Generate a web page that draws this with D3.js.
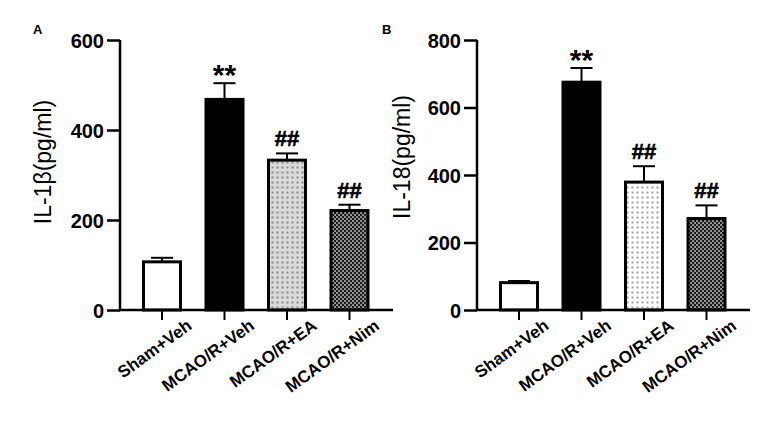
<!DOCTYPE html>
<html><head><meta charset="utf-8">
<script src="https://cdn.jsdelivr.net/npm/d3@7"></script>
<style>body{margin:0;background:#fff}svg{display:block}text{font-family:"Liberation Sans",Arial,sans-serif;fill:#000}</style>
</head><body><svg id="c" width="773" height="428"></svg>
<script>
const groups = ["Sham+Veh","MCAO/R+Veh","MCAO/R+EA","MCAO/R+Nim"];
const il1bMean = [107, 468, 333, 221];
const il1bErr  = [9, 36, 15, 13];
const il18Mean = [81, 675, 379, 271];
const il18Err  = [5, 42, 47, 39];
const sigMarks = ["", "**", "##", "##"];
const ticksA = [0, 200, 400, 600];
const ticksB = [0, 200, 400, 600, 800];

const svg = d3.select("#c");
const defs = svg.append("defs");

function dotPattern(id, bg, dot){
  const p = defs.append("pattern").attr("id", id).attr("patternUnits","userSpaceOnUse")
    .attr("width",5).attr("height",5);
  p.append("rect").attr("width",5).attr("height",5).attr("fill",bg);
  p.append("rect").attr("x",1.5).attr("y",1.5).attr("width",2).attr("height",2).attr("fill",dot);
}
dotPattern("dotsA", "#dadada", "#8a8a8a");
dotPattern("dotsB", "#ffffff", "#a0a0a0");
{
  const p = defs.append("pattern").attr("id","checker").attr("patternUnits","userSpaceOnUse")
    .attr("width",4).attr("height",4);
  p.append("rect").attr("width",4).attr("height",4).attr("fill","#1c1c1c");
  p.append("rect").attr("x",0.3).attr("y",0.3).attr("width",1.5).attr("height",1.5).attr("fill","#e8e8e8");
  p.append("rect").attr("x",2.3).attr("y",2.3).attr("width",1.5).attr("height",1.5).attr("fill","#e8e8e8");
}

function panel(opt){
  const x0 = opt.x0, yTop = 40, yBot = 310;
  const y = d3.scaleLinear().domain([0, opt.max]).range([yBot, yTop]);
  const x = d3.scaleBand().domain(groups).range([x0 + 10.75, x0 + 260.75])
    .paddingInner(0.36).paddingOuter(0.18);
  const g = svg.append("g");
  const fills = ["#ffffff", "#000000", "url(#" + opt.dots + ")", "url(#checker)"];

  // error bars (upper only)
  groups.forEach((k, i) => {
    const cx = x(k) + x.bandwidth()/2;
    const v = opt.mean[i], e = opt.err[i];
    g.append("line").attr("x1",cx).attr("x2",cx).attr("y1",y(v)).attr("y2",y(v+e))
      .attr("stroke","#000").attr("stroke-width",2);
    g.append("line").attr("x1",cx-11).attr("x2",cx+11).attr("y1",y(v+e)).attr("y2",y(v+e))
      .attr("stroke","#000").attr("stroke-width",2);
  });
  // bars
  g.selectAll("rect.bar").data(groups).join("rect").attr("class","bar")
    .attr("x", k => x(k) + 1.5)
    .attr("width", x.bandwidth() - 3)
    .attr("y", (k,i) => y(opt.mean[i]))
    .attr("height", (k,i) => y(0) - y(opt.mean[i]))
    .attr("fill", (k,i) => fills[i])
    .attr("stroke", "#000").attr("stroke-width", 3);

  // significance marks
  groups.forEach((k, i) => {
    const s = sigMarks[i]; if (!s) return;
    const cx = x(k) + x.bandwidth()/2;
    const top = y(opt.mean[i] + opt.err[i]);
    const t = g.append("text").attr("x", cx).attr("text-anchor","middle")
      .attr("font-weight","bold").text(s);
    if (s === "**") t.attr("y", top + 1.5).attr("font-size", 30);
    else t.attr("y", top - 7).attr("font-size", 22).attr("stroke","#000").attr("stroke-width",0.6);
  });

  // y axis
  const ya = d3.axisLeft(y).tickValues(opt.ticks).tickSize(13).tickPadding(3).tickFormat(d3.format("d"));
  const yg = g.append("g").attr("transform", `translate(${x0},0)`).call(ya);
  yg.select(".domain").attr("stroke-width", 2.5).attr("d", `M0,${yTop}V${yBot}`);
  yg.selectAll(".tick line").attr("stroke-width", 2.5);
  yg.selectAll(".tick text").attr("font-size", 20).attr("font-weight","bold")
    .attr("font-family", '"Liberation Sans", Arial, sans-serif').attr("dy","0.36em");

  // x axis
  const xa = d3.axisBottom(x).tickSize(10).tickFormat(() => "");
  const xg = g.append("g").attr("transform", `translate(0,${yBot})`).call(xa);
  xg.select(".domain").attr("stroke-width", 2.5).attr("d", `M${x0-1},0H${x0+273}`);
  xg.selectAll(".tick line").attr("stroke-width", 2);
  groups.forEach(k => {
    const cx = x(k) + x.bandwidth()/2;
    g.append("text").attr("text-anchor","end").attr("font-size", 17).attr("font-weight","bold")
      .attr("transform", `translate(${cx + 31},${yBot + 18}) rotate(-36)`).text(k);
  });

  // y title
  g.append("text").attr("text-anchor","middle").attr("font-size", 23)
    .attr("transform", `translate(${opt.titleX},${opt.titleY}) rotate(-90)`)
    .attr("dy","0.35em").text(opt.title);
  // panel letter
  g.append("text").attr("x", opt.letterX).attr("y", 34).attr("font-size", 13)
    .attr("font-weight","bold").text(opt.letter);
}

panel({x0:120, max:600, ticks:ticksA, mean:il1bMean, err:il1bErr, dots:"dotsA",
  title:"IL-1β(pg/ml)", titleX:43, titleY:162, letter:"A", letterX:33});
panel({x0:477, max:800, ticks:ticksB, mean:il18Mean, err:il18Err, dots:"dotsB",
  title:"IL-18(pg/ml)", titleX:402, titleY:157, letter:"B", letterX:382});
</script></body></html>
